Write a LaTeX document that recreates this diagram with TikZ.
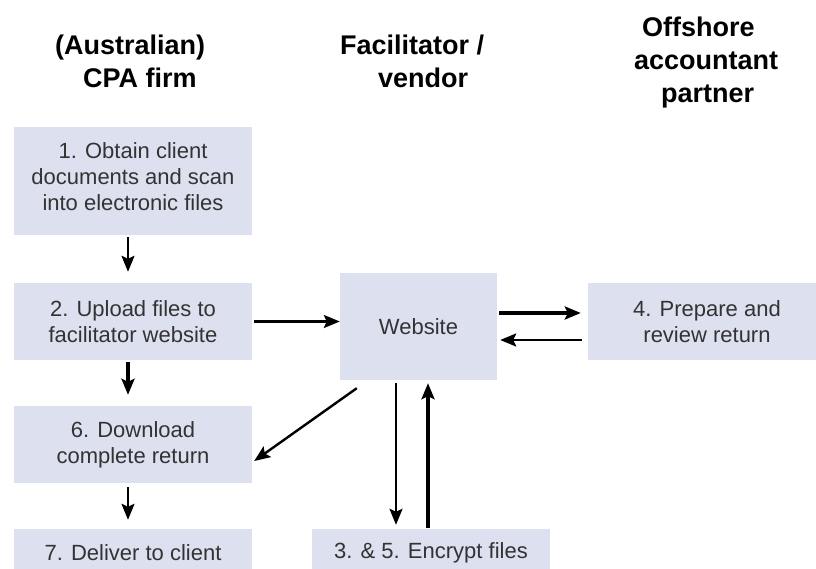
\documentclass[tikz,border=0pt]{standalone}
\usepackage{fontspec}
\setmainfont{Liberation Sans}
\usetikzlibrary{arrows.meta}
\definecolor{boxfill}{RGB}{221,224,239}
\definecolor{boxtext}{RGB}{51,51,51}
\newcommand{\headfont}{\fontsize{27}{33}\selectfont\bfseries}
\newcommand{\boxfont}  {\fontsize{22}{26}\selectfont}

\begin{document}
\begin{tikzpicture}[x=1pt,y=-1pt,
   box/.style={fill=boxfill,text=boxtext,font=\boxfont,align=center,inner sep=0pt,minimum width=238pt},
   head/.style={font=\headfont,align=left,anchor=north west,inner sep=0pt},
   arr/.style={-{Stealth[length=16pt,width=13pt,inset=3pt]},line width=2.4pt},
   bigarr/.style={-{Stealth[length=16pt,width=13pt,inset=3pt]},line width=3.6pt}]
   \useasboundingbox (0,0) rectangle (816,569);
   \clip (0,0) rectangle (816,569);
   \node[head] (cpahead)      at (55,35)  {(Australian)\\\hspace*{28pt}CPA firm};
   \node[head] (vendorhead)   at (340,35) {Facilitator /\\\hspace*{38pt}vendor};
   \node[head] (offshorehead) at (634,17) {\hspace*{8pt}Offshore\\accountant\\\hspace*{27pt}partner};
   \node[box,minimum height=108pt] (obtain)   at (133,181)   {1. Obtain client\\documents and scan\\into electronic files\\[-18pt]};
   \node[box,minimum height=77pt]  (upload)   at (133,321.5) {2. Upload files to\\facilitator website};
   \node[box,minimum height=77pt]  (download) at (133,444.5) {6. Download\\complete return};
   \node[box,minimum height=48pt]  (deliver)  at (133,553)   {7. Deliver to client};
   \node[box,minimum width=157pt,minimum height=107pt] (website) at (418.5,326.5) {Website};
   \node[box,minimum height=77pt]  (prepare)  at (707,321.5) {4. Prepare and\\review return};
   \node[box,minimum height=48pt]  (encrypt)  at (431,553)   {3. \& 5. Encrypt files};
   \draw[arr,shorten <=2pt,shorten >=11pt]    ([xshift=-5pt]obtain.south)   -- ([xshift=-5pt]upload.north);
   \draw[bigarr,shorten <=2pt,shorten >=11pt] ([xshift=-5pt]upload.south)   -- ([xshift=-5pt]download.north);
   \draw[arr,shorten <=4pt,shorten >=9pt]     ([xshift=-5pt]download.south) -- ([xshift=-5pt]deliver.north);
   \draw[arr,shorten <=2pt] (upload.east) -- (upload.east -| website.west);
   \draw[bigarr,shorten <=2pt,shorten >=7pt]  ([yshift=13.5pt]website.east)  -- ([yshift=8.5pt]prepare.west);
   \draw[arr,shorten <=6pt,shorten >=3pt]     ([yshift=-18.5pt]prepare.west) -- ([yshift=-13.5pt]website.east);
   \draw[arr] ([shift={(17,8)}]website.south west) -- ([shift={(2,16.5)}]download.east);
   \draw[arr,shorten <=3pt,shorten >=4pt]     ([xshift=-22.5pt]website.south) -- ([xshift=-35pt]encrypt.north);
   \draw[bigarr,shorten <=1pt,shorten >=3pt]  ([xshift=-3pt]encrypt.north)   -- ([xshift=9.5pt]website.south);
\end{tikzpicture}
\end{document}
